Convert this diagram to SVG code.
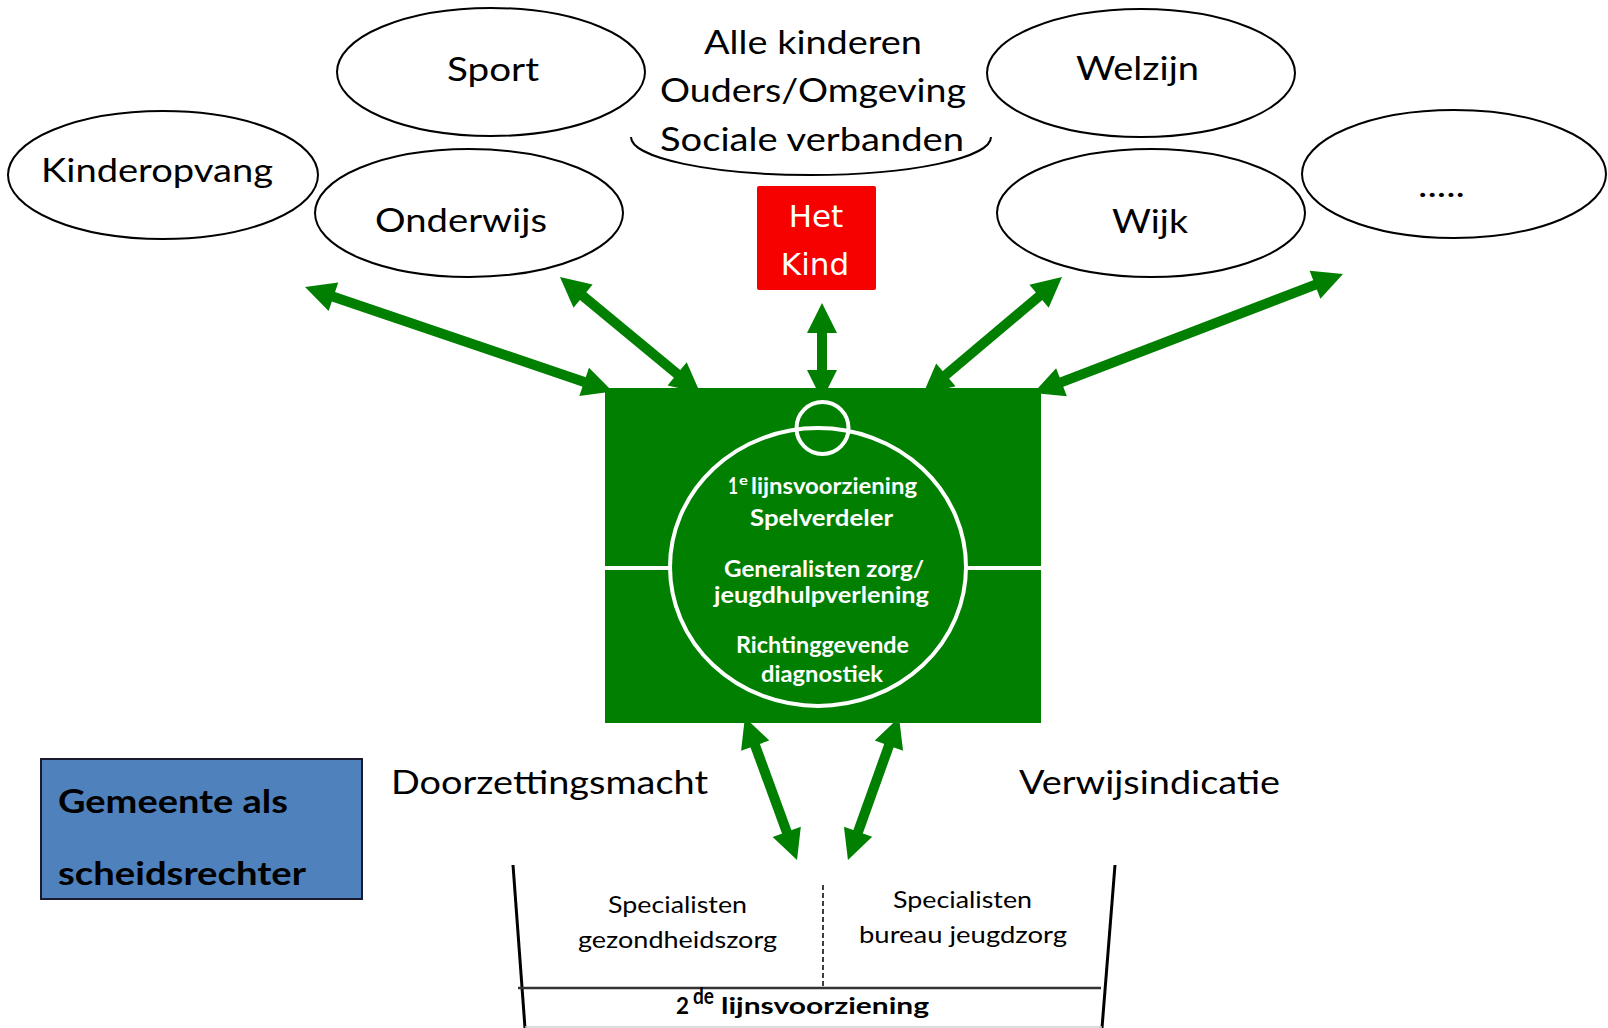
<svg xmlns="http://www.w3.org/2000/svg" width="1608" height="1028" viewBox="0 0 1608 1028">
  <style>
    .oval { fill: #ffffff; stroke: #000000; stroke-width: 2; }
    .lbl { font-family: Lato, "Liberation Sans", sans-serif; font-size: 33px; fill: #000000; }
    .mid { font-family: Lato, "Liberation Sans", sans-serif; font-size: 32px; fill: #000000; }
    .ref { font-family: Lato, "Liberation Sans", sans-serif; font-size: 32px; font-weight: bold; fill: #000000; }
    .kind { font-family: "DejaVu Sans", Verdana, sans-serif; font-size: 31px; fill: #ffffff; text-anchor: middle; }
    .field { font-family: Lato, "Liberation Sans", sans-serif; font-size: 23px; font-weight: bold; fill: #ffffff; }
    .sup { font-family: Lato, "Liberation Sans", sans-serif; font-size: 14px; font-weight: bold; }
    .spec { font-family: Lato, "Liberation Sans", sans-serif; font-size: 23.5px; fill: #000000; }
    .line2 { font-family: Lato, "Liberation Sans", sans-serif; font-size: 23.5px; font-weight: bold; fill: #000000; }
    .arrow { stroke: #007f00; stroke-width: 10; fill: none; marker-start: url(#head); marker-end: url(#head); }
    .chalk { stroke: #ffffff; stroke-width: 4; fill: none; }
  </style>
  <defs>
    <marker id="head" markerUnits="userSpaceOnUse" markerWidth="30" markerHeight="30" refX="18" refY="15" orient="auto-start-reverse" overflow="visible">
      <path d="M0,0 L30,15 L0,30 z" fill="#007f00"/>
    </marker>
  </defs>

  <rect width="1608" height="1028" fill="#ffffff"/>

  <!-- surrounding domains -->
  <g id="kinderopvang">
    <ellipse class="oval" cx="163" cy="175" rx="155" ry="64"/>
    <text class="lbl" x="41" y="182" textLength="232" lengthAdjust="spacingAndGlyphs">Kinderopvang</text>
  </g>
  <g id="sport">
    <ellipse class="oval" cx="491" cy="72" rx="154" ry="64"/>
    <text class="lbl" x="447" y="81" textLength="92" lengthAdjust="spacingAndGlyphs">Sport</text>
  </g>
  <g id="onderwijs">
    <ellipse class="oval" cx="469" cy="213" rx="154" ry="64"/>
    <text class="lbl" x="375" y="232" textLength="172" lengthAdjust="spacingAndGlyphs">Onderwijs</text>
  </g>
  <g id="omgeving">
    <path class="oval" d="M 631 137 A 180 38 0 0 0 991 137" fill="none"/>
    <text class="lbl" x="704" y="54" textLength="218" lengthAdjust="spacingAndGlyphs">Alle kinderen</text>
    <text class="lbl" x="660" y="102" textLength="306" lengthAdjust="spacingAndGlyphs">Ouders/Omgeving</text>
    <text class="lbl" x="660" y="151" textLength="304" lengthAdjust="spacingAndGlyphs">Sociale verbanden</text>
  </g>
  <g id="welzijn">
    <ellipse class="oval" cx="1141" cy="73" rx="154" ry="64"/>
    <text class="lbl" x="1076" y="80" textLength="123" lengthAdjust="spacingAndGlyphs">Welzijn</text>
  </g>
  <g id="wijk">
    <ellipse class="oval" cx="1151" cy="213" rx="154" ry="64"/>
    <text class="lbl" x="1112" y="233" textLength="76" lengthAdjust="spacingAndGlyphs">Wijk</text>
  </g>
  <g id="overig">
    <ellipse class="oval" cx="1454" cy="174" rx="152" ry="64"/>
    <text class="lbl" x="1418" y="197" textLength="47" lengthAdjust="spacingAndGlyphs">.....</text>
  </g>

  <g id="het-kind">
    <rect x="757" y="186" width="119" height="104" rx="2" fill="#f70000"/>
    <text class="kind" x="816" y="227">Het</text>
    <text class="kind" x="815" y="275">Kind</text>
  </g>

  <!-- two-way connectors (drawn under the field) -->
  <g id="connectors">
    <line class="arrow" x1="316.4" y1="290.9" x2="601.2" y2="387.7"/>
    <line class="arrow" x1="569.2" y1="284.7" x2="691" y2="385.4"/>
    <line class="arrow" x1="822" y1="315" x2="822" y2="388"/>
    <line class="arrow" x1="1052.8" y1="284.7" x2="932.1" y2="386.5"/>
    <line class="arrow" x1="1331.8" y1="278.3" x2="1044.7" y2="388.6"/>
    <line class="arrow" x1="749" y1="728.7" x2="792.9" y2="848.7"/>
    <line class="arrow" x1="895" y1="728.7" x2="852" y2="848.7"/>
  </g>

  <!-- the playing field: first-line services -->
  <g id="eerste-lijn">
    <rect x="605" y="388" width="436" height="335" fill="#007f00"/>
    <line class="chalk" x1="605" y1="568" x2="670" y2="568"/>
    <line class="chalk" x1="966" y1="568" x2="1041" y2="568"/>
    <ellipse class="chalk" cx="818" cy="567" rx="148" ry="139"/>
    <circle class="chalk" cx="822.5" cy="428" r="26"/>
    <text class="field" x="728" y="494" textLength="10" lengthAdjust="spacingAndGlyphs">1</text>
    <text class="field sup" x="739" y="485" textLength="9" lengthAdjust="spacingAndGlyphs">e</text>
    <text class="field" x="751" y="494" textLength="166" lengthAdjust="spacingAndGlyphs">lijnsvoorziening</text>
    <text class="field" x="750" y="526" textLength="143" lengthAdjust="spacingAndGlyphs">Spelverdeler</text>
    <text class="field" x="724" y="577" textLength="200" lengthAdjust="spacingAndGlyphs">Generalisten zorg/</text>
    <text class="field" x="714" y="603" textLength="215" lengthAdjust="spacingAndGlyphs">jeugdhulpverlening</text>
    <text class="field" x="736" y="653" textLength="173" lengthAdjust="spacingAndGlyphs">Richtinggevende</text>
    <text class="field" x="761" y="682" textLength="122" lengthAdjust="spacingAndGlyphs">diagnostiek</text>
  </g>

  <g id="scheidsrechter">
    <rect x="41" y="759" width="321" height="140" fill="#4f81bd" stroke="#1a1a2e" stroke-width="2"/>
    <text class="ref" x="58" y="813" textLength="230" lengthAdjust="spacingAndGlyphs">Gemeente als</text>
    <text class="ref" x="58" y="885" textLength="248" lengthAdjust="spacingAndGlyphs">scheidsrechter</text>
  </g>

  <g id="labels">
    <text class="mid" x="391" y="794" textLength="317" lengthAdjust="spacingAndGlyphs">Doorzettingsmacht</text>
    <text class="mid" x="1019" y="794" textLength="261" lengthAdjust="spacingAndGlyphs">Verwijsindicatie</text>
  </g>

  <!-- second-line services: open bucket -->
  <g id="tweede-lijn">
    <line x1="513" y1="865" x2="525" y2="1028" stroke="#000000" stroke-width="3"/>
    <line x1="1115" y1="865" x2="1102" y2="1028" stroke="#000000" stroke-width="3"/>
    <line x1="518" y1="988" x2="1101" y2="988" stroke="#333333" stroke-width="2.5"/>
    <line x1="525" y1="1027" x2="1102" y2="1027" stroke="#d0d0d0" stroke-width="1.5"/>
    <line x1="823" y1="885" x2="823" y2="987" stroke="#000000" stroke-width="1.5" stroke-dasharray="5 3"/>
    <text class="spec" x="608" y="913" textLength="139" lengthAdjust="spacingAndGlyphs">Specialisten</text>
    <text class="spec" x="578" y="948" textLength="199" lengthAdjust="spacingAndGlyphs">gezondheidszorg</text>
    <text class="spec" x="893" y="908" textLength="139" lengthAdjust="spacingAndGlyphs">Specialisten</text>
    <text class="spec" x="859" y="943" textLength="208" lengthAdjust="spacingAndGlyphs">bureau jeugdzorg</text>
    <text class="line2" x="676" y="1014" textLength="13" lengthAdjust="spacingAndGlyphs">2</text>
    <text class="line2 sup" x="693" y="1004" textLength="21" lengthAdjust="spacingAndGlyphs">de</text>
    <text class="line2" x="721" y="1014" textLength="208" lengthAdjust="spacingAndGlyphs">lijnsvoorziening</text>
  </g>
</svg>
